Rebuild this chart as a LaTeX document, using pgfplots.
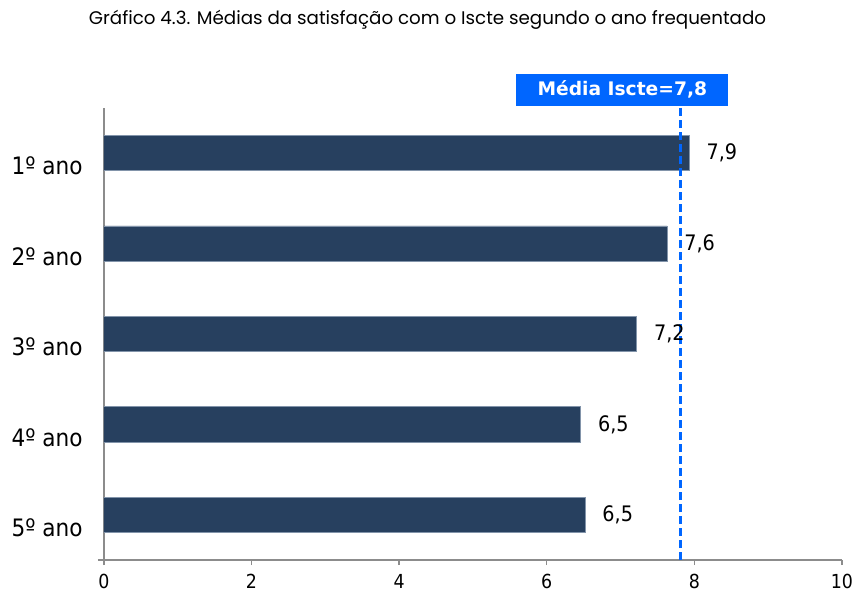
\documentclass[border=0pt]{standalone}
\usepackage{fontspec}
\setmainfont{DejaVu Sans Condensed}
\newfontfamily\titlefont{Poppins}
\newfontfamily\boxfont{DejaVu Sans}
\usepackage{pgfplots}
\usepackage{pgfplotstable}
\pgfplotsset{compat=1.18}
\definecolor{barblue}{RGB}{39,64,95}
\definecolor{baredge}{RGB}{130,148,170}
\definecolor{meanblue}{RGB}{0,102,255}
\definecolor{axisgray}{RGB}{140,140,140}

% media por ano frequentado
\pgfplotstableread{
y val lab
1 7.93 7,9
2 7.63 7,6
3 7.22 7,2
4 6.46 6,5
5 6.52 6,5
}\anos

\begin{document}
\begin{tikzpicture}
\useasboundingbox (-77.9pt,-24.75pt) rectangle (563.3pt,420pt);
\begin{axis}[
  at={(0pt,0pt)}, anchor=south west,
  scale only axis, width=553.5pt, height=339pt,
  xmin=0, xmax=10, ymin=0.5, ymax=5.5, y dir=reverse,
  xtick={0,2,...,10},
  xticklabels={0,2,4,6,8,10},
  ytick={1,...,5},
  yticklabels={1º ano,2º ano,3º ano,4º ano,5º ano},
  minor ytick={0.5,1.5,...,5.5},
  axis lines*=left,
  axis line style={axisgray, line width=1.1pt, -},
  x axis line style={shorten <=-4.5pt},
  tick align=outside,
  major tick length=3.75pt, minor tick length=4.5pt,
  xtick style={axisgray, line width=1.1pt},
  ytick style={draw=none},
  minor tick style={axisgray, line width=1.1pt, draw=axisgray},
  x tick label style={font=\fontsize{14.5}{17}\selectfont, inner sep=0pt, yshift=-6.5pt},
  y tick label style={font=\fontsize{18}{21}\selectfont, inner sep=0pt, xshift=-12pt, yshift=-9.75pt},
]
\addplot[xbar, bar width=26.5pt, fill=barblue, draw=baredge, line width=0.6pt,
  nodes near coords, point meta=explicit symbolic,
  nodes near coords style={anchor=west, inner sep=0pt, xshift=12.75pt,
    font=\fontsize{16}{19}\selectfont, text=black}]
  table[x=val, y=y, meta=lab] {\anos};
\addplot[meanblue, line width=2.25pt, dash pattern=on 6pt off 3pt]
  coordinates {(7.81,5.5) (7.81,0.5)};
\end{axis}
\node[font=\titlefont\fontsize{13.7}{16}\selectfont, anchor=base]
  at (242.7pt,401.25pt) {Gráfico 4.3. Médias da satisfação com o Iscte segundo o ano frequentado};
\node[fill=meanblue, minimum width=159pt, minimum height=24pt, anchor=south west,
  inner sep=0pt, text=white, font=\boxfont\bfseries\fontsize{14}{16}\selectfont]
  at (309.1pt,340.5pt) {Média Iscte=7,8};
\end{tikzpicture}
\end{document}
